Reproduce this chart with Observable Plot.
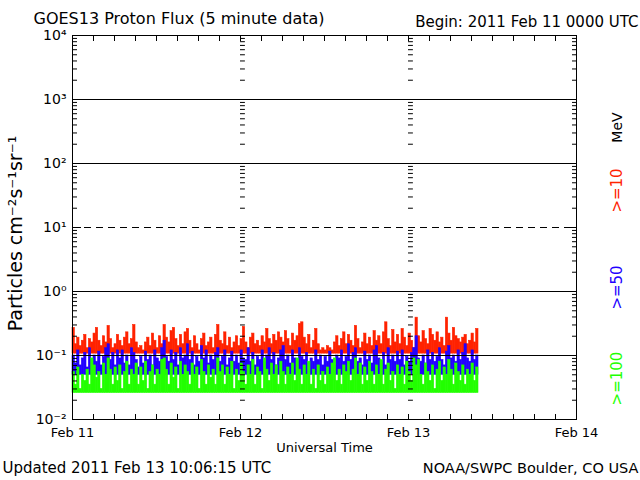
<!DOCTYPE html>
<html><head><meta charset="utf-8">
<script src="https://cdn.jsdelivr.net/npm/d3@7"></script>
<script src="https://cdn.jsdelivr.net/npm/@observablehq/plot@0.6"></script>
<style>body{margin:0;background:#fff} svg{display:block}</style>
</head><body><div id="chart"></div>
<script>
// ---- Data (one value = peak flux in each 20-minute slot) ----
const startTime = new Date(Date.UTC(2011, 1, 11));
const endTime = new Date(Date.UTC(2011, 1, 14));
const slotMinutes = 20;

const p10 = [
0.27,0.15,0.19,0.14,0.17,0.21,0.13,0.18,0.16,0.22,
0.27,0.17,0.14,0.20,0.16,0.29,0.18,0.13,0.15,0.21,
0.17,0.14,0.19,0.23,0.15,0.18,0.30,0.16,0.13,0.14,
0.12,0.16,0.19,0.14,0.22,0.17,0.13,0.20,0.15,0.30,
0.19,0.16,0.24,0.27,0.18,0.14,0.21,0.15,0.23,0.26,
0.17,0.13,0.20,0.15,0.12,0.18,0.22,0.14,0.16,0.19,
0.13,0.21,0.30,0.17,0.15,0.23,0.14,0.19,0.13,0.16,
0.20,0.14,0.18,0.28,0.16,0.13,0.19,0.22,0.15,0.17,
0.14,0.20,0.16,0.26,0.18,0.15,0.21,0.17,0.23,0.19,
0.16,0.24,0.18,0.14,0.22,0.17,0.20,0.31,0.33,0.19,
0.15,0.21,0.13,0.17,0.26,0.15,0.12,0.13,0.12,0.14,
0.13,0.12,0.16,0.20,0.14,0.18,0.23,0.15,0.21,0.17,
0.14,0.29,0.18,0.13,0.16,0.22,0.15,0.19,0.14,0.24,
0.17,0.20,0.15,0.23,0.33,0.18,0.14,0.25,0.16,0.21,
0.15,0.26,0.19,0.14,0.22,0.17,0.13,0.39,0.20,0.16,
0.24,0.18,0.15,0.26,0.21,0.17,0.23,0.16,0.19,0.14,
0.39,0.22,0.17,0.27,0.20,0.18,0.16,0.19,0.21,0.15,
0.17,0.22,0.16,0.26];

const p50 = [
0.10,0.075,0.12,0.07,0.09,0.11,0.065,0.13,0.085,0.10,
0.08,0.115,0.07,0.095,0.13,0.15,0.085,0.11,0.07,0.12,
0.09,0.12,0.075,0.10,0.07,0.13,0.11,0.085,0.065,0.095,
0.075,0.115,0.085,0.10,0.07,0.12,0.09,0.08,0.13,0.17,
0.095,0.08,0.12,0.085,0.11,0.07,0.13,0.09,0.10,0.15,
0.085,0.115,0.07,0.095,0.08,0.14,0.09,0.12,0.075,0.10,
0.085,0.11,0.13,0.08,0.095,0.12,0.07,0.09,0.115,0.08,
0.10,0.075,0.12,0.09,0.085,0.13,0.08,0.11,0.07,0.095,
0.085,0.12,0.08,0.10,0.13,0.085,0.11,0.07,0.09,0.12,
0.14,0.085,0.10,0.075,0.12,0.09,0.08,0.13,0.095,0.085,
0.11,0.075,0.09,0.08,0.12,0.085,0.10,0.07,0.095,0.08,
0.115,0.085,0.07,0.10,0.09,0.12,0.08,0.095,0.15,0.085,
0.11,0.13,0.08,0.09,0.07,0.115,0.085,0.10,0.075,0.12,
0.14,0.09,0.08,0.11,0.07,0.13,0.085,0.10,0.08,0.115,
0.085,0.12,0.07,0.095,0.08,0.11,0.13,0.20,0.09,0.08,
0.10,0.075,0.12,0.085,0.11,0.08,0.095,0.13,0.085,0.07,
0.115,0.14,0.09,0.10,0.08,0.12,0.085,0.11,0.15,0.09,
0.08,0.12,0.085,0.10];

const p100 = [
0.055,0.035,0.065,0.03,0.05,0.04,0.06,0.035,0.09,0.07,
0.045,0.055,0.03,0.075,0.05,0.09,0.06,0.035,0.065,0.04,
0.07,0.03,0.055,0.08,0.035,0.06,0.05,0.075,0.035,0.065,
0.04,0.08,0.03,0.055,0.07,0.035,0.06,0.05,0.085,0.09,
0.06,0.035,0.075,0.045,0.065,0.03,0.08,0.05,0.07,0.055,
0.035,0.075,0.05,0.065,0.03,0.085,0.055,0.035,0.07,0.045,
0.06,0.035,0.09,0.055,0.07,0.035,0.065,0.05,0.08,0.03,
0.06,0.04,0.075,0.055,0.035,0.07,0.05,0.085,0.035,0.065,
0.055,0.03,0.09,0.06,0.04,0.075,0.05,0.07,0.035,0.08,
0.055,0.035,0.065,0.05,0.075,0.04,0.09,0.06,0.035,0.07,
0.05,0.08,0.035,0.06,0.03,0.07,0.04,0.055,0.035,0.065,
0.05,0.075,0.09,0.04,0.06,0.035,0.07,0.055,0.08,0.04,
0.06,0.09,0.05,0.075,0.035,0.065,0.04,0.08,0.055,0.035,
0.07,0.05,0.085,0.035,0.06,0.075,0.04,0.055,0.03,0.07,
0.05,0.065,0.035,0.08,0.055,0.04,0.09,0.07,0.085,0.05,
0.035,0.075,0.055,0.04,0.07,0.03,0.06,0.08,0.04,0.065,
0.05,0.085,0.06,0.035,0.075,0.055,0.04,0.07,0.035,0.06,
0.05,0.075,0.04,0.065];

// background (floor) level of each channel
const floor10 = 0.107, floor50 = 0.050, floor100 = 0.026;

const seriesNames = [">=10", ">=50", ">=100"];
const seriesColors = ["#ff2200", "#2200ff", "#22ff00"];

const dayLabels = ["Feb 11", "Feb 12", "Feb 13", "Feb 14"];
const decadeValues = [1e-2, 1e-1, 1e0, 1e1, 1e2, 1e3, 1e4];
const decadeLabels = ["10\u207B\u00B2", "10\u207B\u00B9", "10\u2070", "10\u00B9", "10\u00B2", "10\u00B3", "10\u2074"];
const solidGrid = [1e-1, 1e0, 1e2, 1e3];
const dashedGrid = [1e1];

const titleText = "GOES13 Proton Flux (5 minute data)";
const beginText = "Begin: 2011 Feb 11 0000 UTC";
const xTitle = "Universal Time";
const yTitle = "Particles cm\u207B\u00B2s\u207B\u00B9sr\u207B\u00B9";
const updatedText = "Updated 2011 Feb 13 10:06:15 UTC";
const creditText = "NOAA/SWPC Boulder, CO USA";

// ---- Derived tables ----
function slots(values, lo) {
  return values.map((v, i) => ({
    t0: d3.utcMinute.offset(startTime, i * slotMinutes),
    t1: d3.utcMinute.offset(startTime, (i + 1) * slotMinutes),
    lo, hi: v
  }));
}
const d10 = slots(p10, floor10), d50 = slots(p50, floor50), d100 = slots(p100, floor100);
const dayDates = dayLabels.map((_, i) => d3.utcDay.offset(startTime, i));
const minorY = [];
for (let e = -2; e < 4; e++) for (let m = 2; m <= 9; m++) minorY.push(m * Math.pow(10, e));
const hourTicks = d3.utcHour.every(3).range(startTime, d3.utcHour.offset(endTime, 1));
const midDays = dayDates.slice(1, 3);
const midTicks = midDays.flatMap(d => minorY.map(y => ({d, y})));

const font = "DejaVu Sans";
const blank = () => "";
const bar = (data, color) => Plot.rect(data, {x1: "t0", x2: "t1", y1: "lo", y2: "hi", fill: color, stroke: color, strokeWidth: 0.6});

const chart = Plot.plot({
  width: 640, height: 480,
  marginLeft: 72, marginRight: 64, marginTop: 35, marginBottom: 61,
  style: {fontFamily: font, fontSize: "14px", background: "white", color: "black"},
  x: {type: "utc", domain: [startTime, endTime]},
  y: {type: "log", domain: [1e-2, 1e4]},
  marks: [
    bar(d10, seriesColors[0]),
    bar(d50, seriesColors[1]),
    bar(d100, seriesColors[2]),
    Plot.ruleY(solidGrid, {stroke: "black"}),
    Plot.ruleY(dashedGrid, {stroke: "black", strokeDasharray: "7,5"}),
    Plot.ruleY(midTicks, {y: "y", x1: "d", x2: d => d3.utcMinute.offset(d.d, 42), stroke: "black"}),
    Plot.frame({stroke: "black"}),
    // y ticks (inward), left & right
    Plot.axisY(minorY, {anchor: "left", tickSize: -5, tickFormat: blank, label: null}),
    Plot.axisY(decadeValues, {anchor: "left", tickSize: -9, tickFormat: blank, label: null}),
    Plot.axisY(minorY, {anchor: "right", tickSize: -5, tickFormat: blank, label: null}),
    Plot.axisY(decadeValues, {anchor: "right", tickSize: -9, tickFormat: blank, label: null}),
    Plot.axisY(decadeValues, {anchor: "left", tickSize: 0, tickPadding: 6, fontSize: 14,
      tickFormat: d => decadeLabels[decadeValues.indexOf(d)], label: null}),
    // x ticks (inward), bottom & top
    Plot.axisX(hourTicks, {anchor: "bottom", tickSize: -5, tickFormat: blank, label: null}),
    Plot.axisX(hourTicks, {anchor: "top", tickSize: -5, tickFormat: blank, label: null}),
    Plot.axisX(dayDates, {anchor: "bottom", tickSize: 0, tickPadding: 8, fontSize: 13,
      tickFormat: d => dayLabels[dayDates.findIndex(e => +e === +d)], label: null}),
    // texts
    Plot.text([titleText], {frameAnchor: "top-left", dx: -39, dy: -17, textAnchor: "start", lineAnchor: "middle", fontSize: 16}),
    Plot.text([beginText], {frameAnchor: "top-right", dx: 62, dy: -13, textAnchor: "end", lineAnchor: "middle", fontSize: 15}),
    Plot.text([xTitle], {frameAnchor: "bottom", dy: 28, textAnchor: "middle", lineAnchor: "middle", fontSize: 13}),
    Plot.text([updatedText], {frameAnchor: "bottom-left", dx: -70, dy: 49, textAnchor: "start", lineAnchor: "middle", fontSize: 15}),
    Plot.text([creditText], {frameAnchor: "bottom-right", dx: 62, dy: 49, textAnchor: "end", lineAnchor: "middle", fontSize: 14.5}),
    Plot.text([yTitle], {frameAnchor: "left", dx: -57, dy: 6, rotate: -90, textAnchor: "middle", lineAnchor: "middle", fontSize: 19}),
    Plot.text(["MeV"], {frameAnchor: "right", dx: 41, dy: -100, rotate: -90, textAnchor: "middle", lineAnchor: "middle", fontSize: 14, fill: "black"}),
    Plot.text([seriesNames[0]], {frameAnchor: "right", dx: 41, dy: -37, rotate: -90, textAnchor: "middle", lineAnchor: "middle", fontSize: 15, fill: seriesColors[0]}),
    Plot.text([seriesNames[1]], {frameAnchor: "right", dx: 41, dy: 60, rotate: -90, textAnchor: "middle", lineAnchor: "middle", fontSize: 15, fill: seriesColors[1]}),
    Plot.text([seriesNames[2]], {frameAnchor: "right", dx: 41, dy: 151, rotate: -90, textAnchor: "middle", lineAnchor: "middle", fontSize: 15, fill: seriesColors[2]})
  ]
});
document.getElementById("chart").append(chart);
</script>
</body></html>
